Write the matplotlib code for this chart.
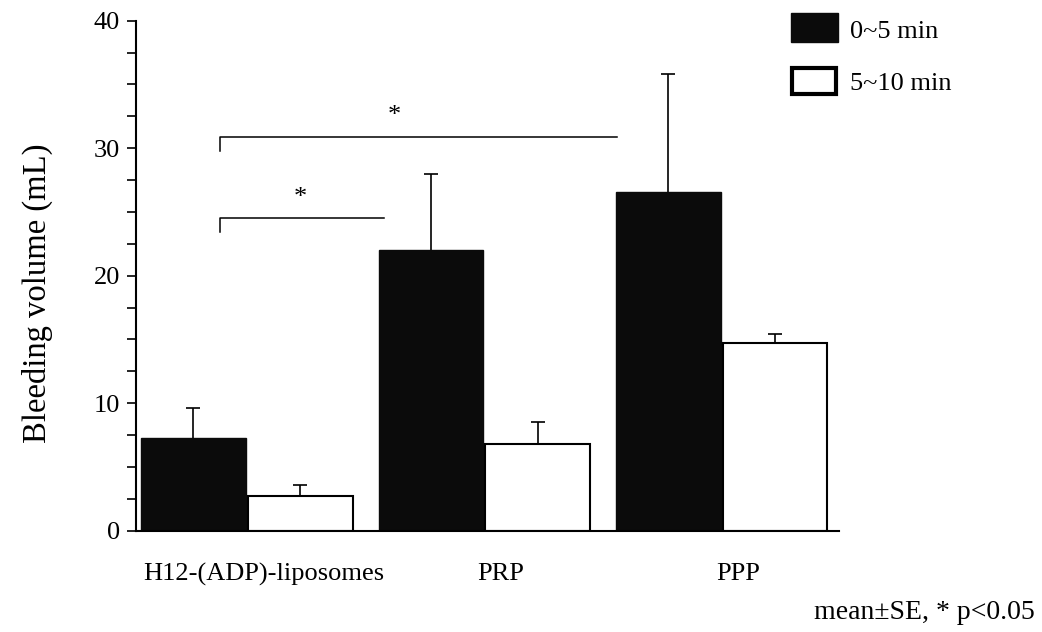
import numpy as np
import matplotlib
matplotlib.use("Agg")
import matplotlib.pyplot as plt
from matplotlib.patches import Rectangle

groups = ["H12-(ADP)-liposomes", "PRP", "PPP"]
early_mean = [7.3, 22.0, 26.6]   # 0~5 min
early_se = [2.35, 5.95, 9.2]
late_mean = [2.7, 6.8, 14.7]     # 5~10 min
late_se = [0.9, 1.7, 0.7]
series_names = ["0~5 min", "5~10 min"]

plt.rcParams['font.family'] = ['Liberation Serif', 'DejaVu Serif']

fig = plt.figure(figsize=(10.42, 6.32), dpi=100)
ax = fig.add_axes([0.1305, 0.1603, 0.6745, 0.8069])

x = np.arange(len(groups))
w = 0.44
off = 0.225
zeros = np.zeros(len(groups))

ax.bar(x - off, early_mean, w, color="#0b0b0b", edgecolor="#0b0b0b", linewidth=1.0, zorder=2)
ax.bar(x + off, late_mean, w, color="white", edgecolor="black", linewidth=1.5, zorder=2)

# upper error bars only
for pos, m, se in [(x - off, early_mean, early_se), (x + off, late_mean, late_se)]:
    eb = ax.errorbar(pos, m, yerr=[zeros, se], fmt="none", ecolor="black",
                     elinewidth=1.2, capsize=5, capthick=1.2, zorder=1)
    eb[1][0].set_visible(False)  # hide the cap sitting on the bar top

ax.set_xlim(-0.467, 2.493)
ax.set_ylim(0, 40)
ax.spines['top'].set_visible(False)
ax.spines['right'].set_visible(False)
ax.spines['left'].set_linewidth(1.5)
ax.spines['bottom'].set_linewidth(1.5)

ax.set_yticks([0, 10, 20, 30, 40])
ax.set_yticks(np.arange(0, 40, 2.5), minor=True)
ax.tick_params(axis='y', which='both', direction='out', length=6.5, width=1.2, labelsize=19, pad=5)
ax.set_xticks(x + 0.07)
ax.set_xticklabels(groups)
ax.tick_params(axis='x', length=0, labelsize=19, pad=23)

ax.set_ylabel("Bleeding volume (mL)", fontsize=23.5)
ax.yaxis.set_label_coords(-0.118, 0.466)

# significance brackets
def bracket(x0, x1, y, drop, star_x, star_y):
    ax.plot([x0, x0, x1], [y - drop, y, y], color="black", lw=1.1, clip_on=False)
    ax.text(star_x, star_y, "*", ha="center", va="center", fontsize=19)

bracket(-0.114, 1.558, 30.9, 1.1, 0.623, 32.5)
bracket(-0.114, 0.577, 24.5, 1.1, 0.227, 26.1)

# legend drawn by hand
fig.add_artist(Rectangle((0.759, 0.9335), 0.0451, 0.0459, transform=fig.transFigure,
                         facecolor="#0b0b0b", edgecolor="#0b0b0b"))
fig.add_artist(Rectangle((0.7605, 0.8505), 0.0422, 0.0425, transform=fig.transFigure,
                         facecolor="white", edgecolor="black", linewidth=3))
fig.text(0.816, 0.950, series_names[0], fontsize=19, va="center", ha="left")
fig.text(0.816, 0.867, series_names[1], fontsize=19, va="center", ha="left")

fig.text(0.993, 0.031, "mean\u00b1SE, * p<0.05", fontsize=20, ha="right", va="center")

fig.savefig("out.png", dpi=100, facecolor="white")
